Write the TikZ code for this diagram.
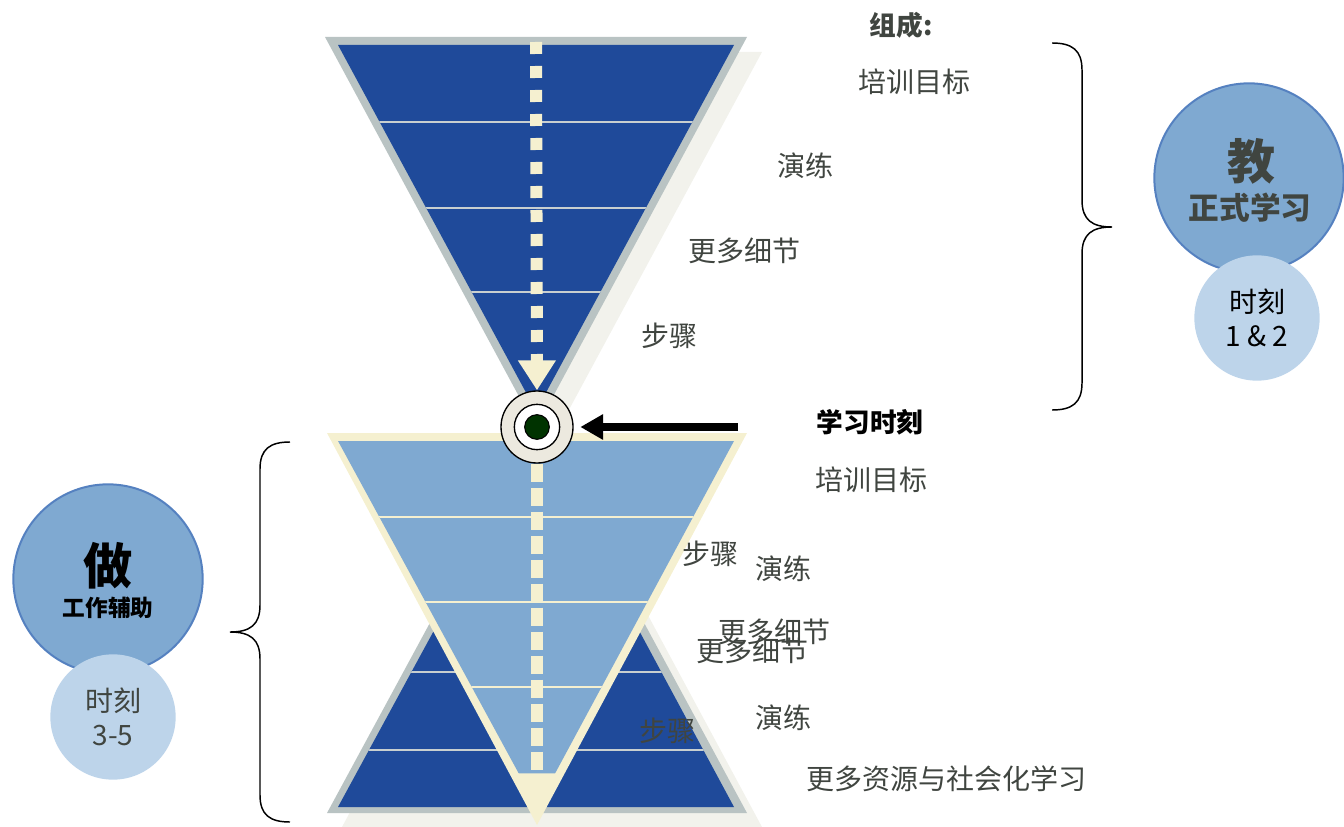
\documentclass[tikz,border=0pt]{standalone}
\usepackage{fontspec}
\newfontfamily\cjk{Noto Sans CJK SC}
\usetikzlibrary{arrows.meta}
\definecolor{deepblue}{HTML}{1F4A9A}
\definecolor{rimgray}{HTML}{B9C3C3}
\definecolor{bandgray}{HTML}{C8CFD0}
\definecolor{paleblue}{HTML}{7FA9D1}
\definecolor{creamy}{HTML}{F5F0D0}
\definecolor{shadowtone}{HTML}{F2F2EC}
\definecolor{mistblue}{HTML}{BDD4EA}
\definecolor{ringblue}{HTML}{5581C0}
\definecolor{labelgray}{HTML}{404540}
\definecolor{ringfill}{HTML}{ECE9DF}
\definecolor{dotgreen}{HTML}{003300}
\begin{document}
\begin{tikzpicture}[x=0.75pt,y=-0.75pt]

			\tikzstyle{label}=[font=\cjk\fontsize{21}{25}\selectfont,
				text=labelgray,inner sep=0pt]
			\tikzstyle{heading}=[font=\cjk\bfseries\fontsize{20}{24}\selectfont,
				inner sep=0pt]
			\tikzstyle{bigdisc}=[circle,fill=paleblue,draw=ringblue,
				line width=1.5pt,minimum size=142pt,inner sep=0pt]
			\tikzstyle{smalldisc}=[circle,fill=mistblue,minimum size=94pt,
				inner sep=0pt,align=center,
				font=\cjk\fontsize{21}{25}\selectfont]
			\tikzstyle{band}=[line width=1.5pt]
			\tikzstyle{flow}=[creamy,line width=9pt]
			\tikzstyle{curly}=[line width=1.1pt]

			\useasboundingbox (0,0) rectangle (1344,827);

			% shadows
			\fill[shadowtone] (340,52) -- (762,52) -- (551,443) -- cycle;
			\fill[shadowtone] (342,827) -- (762,827) -- (552,437) -- cycle;

			% upright pyramid behind
			\fill[rimgray] (327,813) -- (747,813) -- (537,425) -- cycle;
			\begin{scope}
				\clip (338,807) -- (734,807) -- (537,441) -- cycle;
				\fill[deepblue] (300,400) rectangle (760,820);
				\draw[band,bandgray] (300,672) -- (760,672);
				\draw[band,bandgray] (300,750) -- (760,750);
			\end{scope}

			% upper funnel
			\fill[rimgray] (325,37) -- (747,37) -- (536,428) -- cycle;
			\begin{scope}
				\clip (338,45) -- (734,45) -- (536,411) -- cycle;
				\fill[deepblue] (300,30) rectangle (760,420);
				\draw[band,bandgray] (300,122) -- (760,122);
				\draw[band,bandgray] (300,208) -- (760,208);
				\draw[band,bandgray] (300,292) -- (760,292);
			\end{scope}

			% lower funnel
			\fill[creamy] (327,433) -- (747,433) -- (537,825) -- cycle;
			\begin{scope}
				\clip (338,441) -- (734,441) -- (537,807) -- cycle;
				\fill[paleblue] (300,430) rectangle (760,820);
				\draw[band,creamy] (300,517) -- (760,517);
				\draw[band,creamy] (300,602) -- (760,602);
				\draw[band,creamy] (300,687) -- (760,687);
			\end{scope}

			\node[circle,fill=ringfill,draw=black,line width=1pt,
				minimum size=54pt,inner sep=0pt] (moment) at (537,427) {};
			\node[circle,fill=white,draw=black,line width=1pt,
				minimum size=34pt,inner sep=0pt] (momentin) at (moment) {};
			\node[circle,fill=dotgreen,draw=black,line width=0.8pt,
				minimum size=18.5pt,inner sep=0pt] (momentdot) at (moment) {};

			\coordinate (flowtop) at (536,42);
			\coordinate (flowend) at (537,812);
			\coordinate (cue) at (738,427);

			\draw[flow,dash pattern=on 9pt off 9pt,
				-{Triangle[length=22.5pt,width=27pt]}] (flowtop) -- (moment.north);
			\draw[flow,dash pattern=on 13.5pt off 4.5pt,
				-{Triangle[length=29pt,width=27pt]}] (moment.south) -- (flowend);
			\draw[line width=6pt,-{Triangle[length=17pt,width=18pt]},
				shorten >=5pt] (cue) -- (moment.east);

			\node[heading,text=labelgray]	(parts)		at (901,25)		{组成:};
			\node[label]	(goalA)		at (914,82)		{培训目标};
			\node[label]	(drillA)	at (805,166)	{演练};
			\node[label]	(detailA)	at (744,251)	{更多细节};
			\node[label]	(stepA)		at (669,336)	{步骤};

			\node[heading]	(momenttxt)	at (870,422)	{学习时刻};
			\node[label]	(goalB)		at (871,480)	{培训目标};
			\node[label]	(stepB)		at (710,554)	{步骤};
			\node[label]	(drillB)	at (783,569)	{演练};
			\node[label]	(detailB)	at (774,632)	{更多细节};
			\node[label]	(detailC)	at (752,651)	{更多细节};
			\node[label]	(drillC)	at (783,718)	{演练};
			\node[label]	(stepC)		at (667,731)	{步骤};
			\node[label]	(social)	at (946,779)	{更多资源与社会化学习};

			\draw[curly] (1052,43) .. controls (1072,43) and (1082,50) .. (1082,70)
				-- (1082,200) .. controls (1082,220) and (1092,227) .. (1112,227)
				.. controls (1092,227) and (1082,234) .. (1082,254)
				-- (1082,383) .. controls (1082,403) and (1072,410) .. (1052,410);
			\draw[curly] (290,442) .. controls (270,442) and (260,449) .. (260,469)
				-- (260,605) .. controls (260,625) and (250,632) .. (230,632)
				.. controls (250,632) and (260,639) .. (260,659)
				-- (260,795) .. controls (260,815) and (270,822) .. (290,822);

			\node[bigdisc]	(teach)		at (1249,178)	{};
			\node[smalldisc]	(teachtime)	at (1257,318)	{时刻\\1 \& 2};
			\node[font=\cjk\bfseries\fontsize{36}{40}\selectfont,text=labelgray,
				inner sep=0pt]	(teachhead)	at (1251,161)	{教};
			\node[font=\cjk\bfseries\fontsize{23}{27}\selectfont,text=labelgray,
				inner sep=0pt]	(teachsub)	at (1250,208)	{正式学习};

			\node[bigdisc]	(doing)		at (108,579)	{};
			\node[smalldisc,text=labelgray]	(doingtime)	at (113,717)	{时刻\\3-5};
			\node[font=\cjk\bfseries\fontsize{37}{40}\selectfont,
				inner sep=0pt]	(doinghead)	at (108,566)	{做};
			\node[font=\cjk\bfseries\fontsize{17}{20}\selectfont,
				inner sep=0pt]	(doingsub)	at (108,608)	{工作辅助};

		\end{tikzpicture}
\end{document}
